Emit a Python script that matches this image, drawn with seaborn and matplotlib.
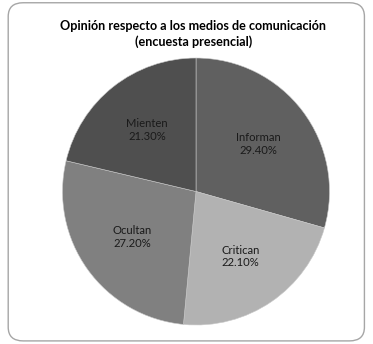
import matplotlib
matplotlib.use("Agg")
import matplotlib.pyplot as plt
from matplotlib.patches import FancyBboxPatch
import seaborn as sns

# Survey results
categories = ["Informan", "Critican", "Ocultan", "Mienten"]
shares = [29.4, 22.1, 27.2, 21.3]
slice_colors = ["#606060", "#b2b2b2", "#808080", "#4f4f4f"]
title = "Opinión respecto a los medios de comunicación\n(encuesta presencial)"

sns.set_theme(style="white")
plt.rcParams["font.family"] = ["Lato", "DejaVu Sans"]
palette = sns.color_palette(slice_colors)

fig = plt.figure(figsize=(3.73, 3.44), dpi=100)
fig.patch.set_facecolor("white")

# Rounded frame around the chart area
frame = FancyBboxPatch((0.022, 0.009), 0.955, 0.983,
                       boxstyle="round,pad=0,rounding_size=0.04",
                       transform=fig.transFigure, facecolor="none",
                       edgecolor="#a6a6a6", linewidth=1.0, zorder=0)
fig.patches.append(frame)

ax = fig.add_axes([0.1676, 0.0552, 0.7158, 0.7762])
labels = [f"{c}\n{v:.2f}%" for c, v in zip(categories, shares)]
wedges, texts = ax.pie(shares, colors=palette, startangle=90, counterclock=False,
                       labels=labels, labeldistance=0.59,
                       wedgeprops=dict(edgecolor="#c8c8c8", linewidth=0.4),
                       textprops=dict(fontsize=8.1, color="#1a1a1a",
                                      ha="center", va="center",
                                      linespacing=1.2))
ax.set_aspect("equal")
ax.set_xlim(-1, 1)
ax.set_ylim(-1, 1)
ax.axis("off")

fig.text(0.518, 0.901, title, ha="center", va="center", fontsize=9.1,
         fontweight="bold", color="#000000", linespacing=1.35)

fig.savefig("out.png", dpi=100, facecolor="white")
